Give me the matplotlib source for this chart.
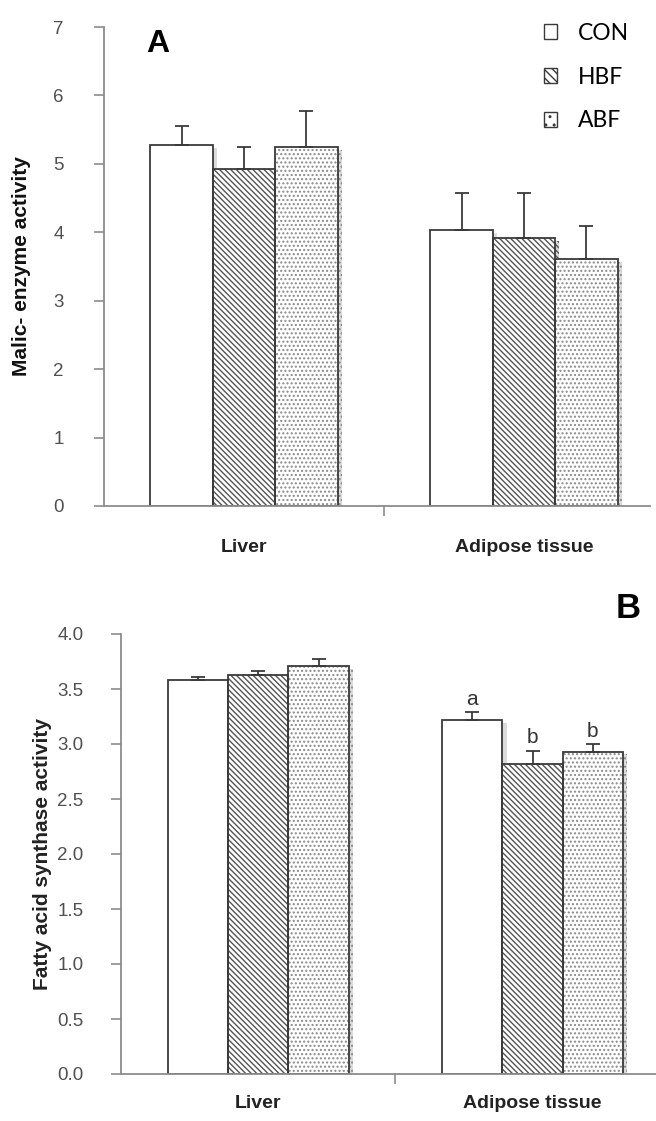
import matplotlib
matplotlib.use('Agg')
import numpy as np
from matplotlib import pyplot as plt
from matplotlib.patches import Patch
import matplotlib.patheffects as pe

plt.rcParams['font.family'] = ['Liberation Sans', 'DejaVu Sans']
plt.rcParams['hatch.linewidth'] = 1.0

tissues = ['Liver', 'Adipose tissue']
groups = ['CON', 'HBF', 'ABF']

# panel A: malic enzyme activity
malic_mean = {'CON': [5.27, 4.03], 'HBF': [4.93, 3.92], 'ABF': [5.25, 3.61]}
malic_err = {'CON': [0.28, 0.54], 'HBF': [0.32, 0.65], 'ABF': [0.52, 0.48]}

# panel B: fatty acid synthase activity
fas_mean = {'CON': [3.58, 3.22], 'HBF': [3.63, 2.82], 'ABF': [3.71, 2.93]}
fas_err = {'CON': [0.03, 0.07], 'HBF': [0.03, 0.12], 'ABF': [0.06, 0.07]}
fas_letters = {'CON': ['', 'a'], 'HBF': ['', 'b'], 'ABF': ['', 'b']}

hatches = {'CON': '', 'HBF': '\\' * 6, 'ABF': '.' * 4}
legend_hatches = {'CON': '', 'HBF': '\\' * 4, 'ABF': '..'}
hatch_col = {'CON': 'white', 'HBF': '#555555', 'ABF': '#8a8a8a'}
edge = '#3a3a3a'
axis_grey = '#8c8c8c'
tick_grey = '#505050'

W, H = 656, 1121
fig = plt.figure(figsize=(W / 100, H / 100), dpi=100)
shadow = [pe.SimplePatchShadow(offset=(3, -2), shadow_rgbFace='#999999', alpha=0.35), pe.Normal()]


def draw(ax, means, errs, ylim, yticks, fmt, width, ypad, xpad):
    x = np.arange(len(tissues))
    for i, g in enumerate(groups):
        pos = x + (i - 1) * width
        # fill + hatch first, then the outline on top
        bars = ax.bar(pos, means[g], width, color='white', edgecolor=hatch_col[g],
                      linewidth=0, hatch=hatches[g], zorder=2)
        for b in bars:
            b.set_path_effects(shadow)
        ax.bar(pos, means[g], width, fill=False, edgecolor=edge,
               linewidth=1.3, zorder=2.5)
        ax.errorbar(pos, means[g], yerr=[np.zeros(len(tissues)), errs[g]],
                    fmt='none', ecolor=edge, elinewidth=1.3, capsize=5,
                    capthick=1.3, zorder=3)
    ax.set_ylim(*ylim)
    ax.set_xlim(-0.5, 1.45)
    ax.set_yticks(yticks)
    ax.set_yticklabels([fmt.format(v) for v in yticks], fontsize=13.5, color=tick_grey)
    ax.set_xticks(x)
    ax.set_xticklabels(tissues, fontsize=14, fontweight='bold', color='#222222')
    ax.set_xticks([0.5], minor=True)
    ax.tick_params(axis='x', which='major', length=0, pad=xpad)
    ax.tick_params(axis='x', which='minor', length=7, color=axis_grey, width=1.2)
    ax.tick_params(axis='y', length=7, color=axis_grey, width=1.2, pad=ypad)
    for s in ['top', 'right']:
        ax.spines[s].set_visible(False)
    for s in ['left', 'bottom']:
        ax.spines[s].set_color(axis_grey)
        ax.spines[s].set_linewidth(1.3)
    return x


# panel A
axA = fig.add_axes([104 / W, 1 - 506 / H, 546 / W, 479 / H])
draw(axA, malic_mean, malic_err, (0, 7), np.arange(0, 8), '{:.0f}', 0.223, 22, 24)
axA.set_ylabel('Malic- enzyme activity', fontsize=15, fontweight='bold',
               color='#111111', labelpad=16)
fig.text(158 / W, 1 - 44 / H, 'A', fontsize=23, fontweight='bold',
         ha='center', va='center')
handles = [Patch(facecolor='white', edgecolor=edge, hatch=legend_hatches[g], label=g)
           for g in groups]
fig.legend(handles=handles, loc='upper left', bbox_to_anchor=(523 / W, 1 - 2 / H),
           frameon=False, handlelength=0.6, handleheight=0.6,
           handletextpad=0.9, labelspacing=1.0, prop={'family': 'Lato', 'size': 16.5})

# panel B
axB = fig.add_axes([121 / W, 1 - 1074 / H, 535 / W, 440 / H])
x = draw(axB, fas_mean, fas_err, (0, 4.0), np.arange(0, 4.01, 0.5), '{:.1f}', 0.22, 20, 15)
axB.set_ylabel('Fatty acid synthase activity', fontsize=15, fontweight='bold',
               color='#222222', labelpad=4)
for i, g in enumerate(groups):
    for j, lab in enumerate(fas_letters[g]):
        if lab:
            axB.text(x[j] + (i - 1) * 0.22, fas_mean[g][j] + fas_err[g][j] + 0.03,
                     lab, ha='center', va='bottom', fontsize=15, color='#333333')
fig.text(628 / W, 1 - 609 / H, 'B', fontsize=25, fontweight='bold',
         ha='center', va='center')

fig.savefig('out.png', dpi=100)
